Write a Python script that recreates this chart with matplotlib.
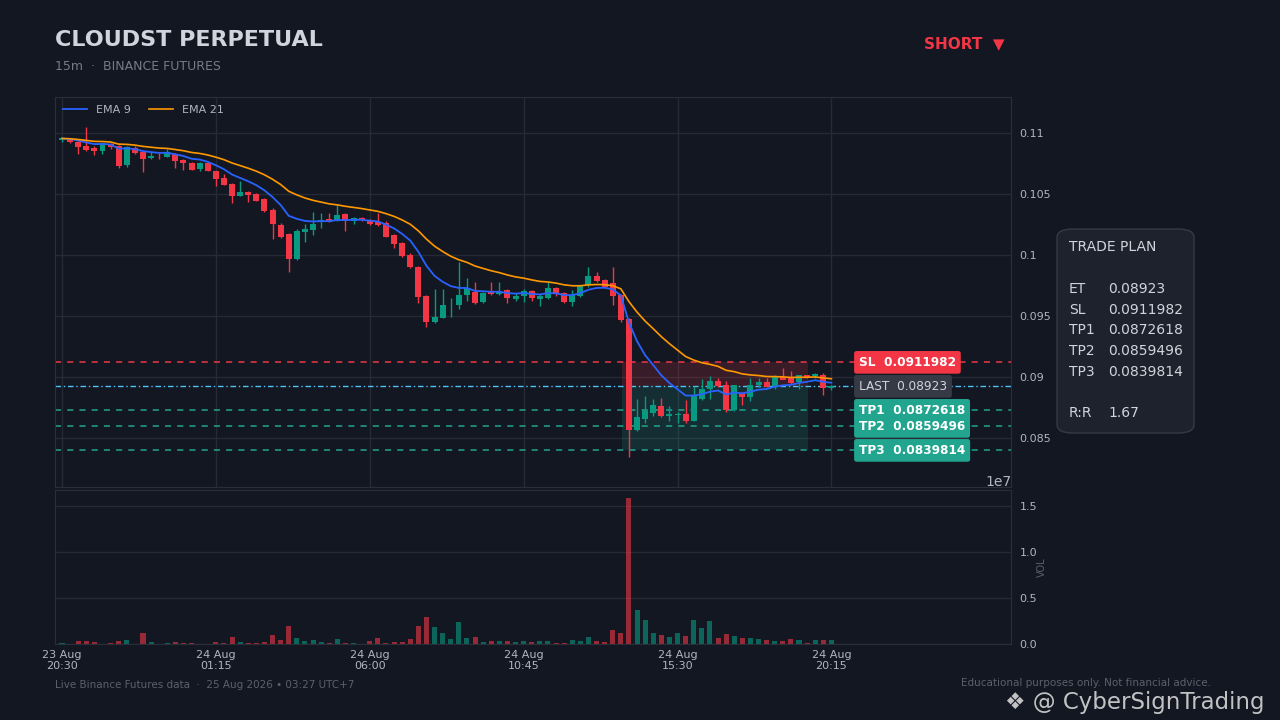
import numpy as np
import pandas as pd
import matplotlib
matplotlib.use("Agg")
import matplotlib.pyplot as plt
from matplotlib.patches import FancyBboxPatch

# --- data (15m candles, CLOUDUSDT perp) ---
opens = [0.10940, 0.10952, 0.10930, 0.10893, 0.10880, 0.10853, 0.10910, 0.10893, 0.10738, 0.10880,
         0.10847, 0.10798, 0.10815, 0.10806, 0.10825, 0.10779, 0.10757, 0.10705, 0.10757, 0.10689,
         0.10629, 0.10582, 0.10484, 0.10519, 0.10500, 0.10459, 0.10369, 0.10246, 0.10172, 0.09967,
         0.10191, 0.10205, 0.10269, 0.10295, 0.10281, 0.10336, 0.10281, 0.10300, 0.10287, 0.10268,
         0.10266, 0.10164, 0.10101, 0.10000, 0.09902, 0.09664, 0.09453, 0.09486, 0.09595, 0.09590,
         0.09672, 0.09700, 0.09618, 0.09695, 0.09680, 0.09713, 0.09639, 0.09664, 0.09707, 0.09643,
         0.09651, 0.09732, 0.09692, 0.09618, 0.09664, 0.09755, 0.09828, 0.09795, 0.09768, 0.09672,
         0.09475, 0.08566, 0.08656, 0.08708, 0.08762, 0.08683, 0.08692, 0.08697, 0.08642, 0.08820,
         0.08899, 0.08967, 0.08934, 0.08730, 0.08866, 0.08833, 0.08934, 0.08962, 0.08926, 0.09003,
         0.09003, 0.08962, 0.09016, 0.09008, 0.09016, 0.08907]
highs = [0.10970, 0.10960, 0.10935, 0.11047, 0.10890, 0.10920, 0.10920, 0.10905, 0.10895, 0.10890,
         0.10855, 0.10840, 0.10835, 0.10870, 0.10835, 0.10785, 0.10765, 0.10762, 0.10762, 0.10692,
         0.10665, 0.10590, 0.10610, 0.10525, 0.10512, 0.10465, 0.10385, 0.10260, 0.10180, 0.10215,
         0.10250, 0.10350, 0.10340, 0.10340, 0.10410, 0.10345, 0.10315, 0.10315, 0.10295, 0.10342,
         0.10275, 0.10170, 0.10108, 0.10015, 0.09910, 0.09670, 0.09720, 0.09720, 0.09645, 0.09940,
         0.09810, 0.09780, 0.09700, 0.09781, 0.09775, 0.09720, 0.09685, 0.09720, 0.09715, 0.09680,
         0.09780, 0.09740, 0.09700, 0.09710, 0.09750, 0.09900, 0.09860, 0.09800, 0.09900, 0.09680,
         0.09480, 0.08818, 0.08840, 0.08818, 0.08830, 0.08760, 0.08715, 0.08810, 0.08930, 0.08984,
         0.09010, 0.08995, 0.08970, 0.08935, 0.08875, 0.08995, 0.08995, 0.08990, 0.09020, 0.09072,
         0.09045, 0.09020, 0.09020, 0.09035, 0.09035, 0.08935]
lows = [0.10925, 0.10915, 0.10825, 0.10855, 0.10822, 0.10830, 0.10870, 0.10710, 0.10725, 0.10830,
        0.10684, 0.10785, 0.10790, 0.10800, 0.10710, 0.10695, 0.10695, 0.10690, 0.10685, 0.10568,
        0.10570, 0.10424, 0.10480, 0.10436, 0.10440, 0.10355, 0.10129, 0.10140, 0.09863, 0.09960,
        0.10104, 0.10160, 0.10220, 0.10270, 0.10275, 0.10200, 0.10250, 0.10275, 0.10245, 0.10240,
        0.10150, 0.10060, 0.09985, 0.09895, 0.09604, 0.09408, 0.09440, 0.09480, 0.09495, 0.09555,
        0.09620, 0.09600, 0.09610, 0.09675, 0.09670, 0.09610, 0.09620, 0.09615, 0.09625, 0.09585,
        0.09640, 0.09665, 0.09605, 0.09580, 0.09655, 0.09740, 0.09780, 0.09735, 0.09590, 0.09450,
        0.08347, 0.08555, 0.08620, 0.08680, 0.08670, 0.08640, 0.08625, 0.08620, 0.08640, 0.08815,
        0.08820, 0.08915, 0.08710, 0.08725, 0.08770, 0.08800, 0.08915, 0.08915, 0.08900, 0.08995,
        0.08940, 0.08900, 0.08995, 0.08995, 0.08850, 0.08895]
closes = [0.10955, 0.10930, 0.10888, 0.10862, 0.10853, 0.10916, 0.10888, 0.10732, 0.10888, 0.10839,
          0.10787, 0.10811, 0.10810, 0.10842, 0.10773, 0.10757, 0.10697, 0.10757, 0.10689, 0.10623,
          0.10574, 0.10484, 0.10519, 0.10495, 0.10443, 0.10361, 0.10254, 0.10148, 0.09967, 0.10197,
          0.10213, 0.10254, 0.10290, 0.10274, 0.10328, 0.10281, 0.10300, 0.10287, 0.10254, 0.10246,
          0.10151, 0.10090, 0.09992, 0.09902, 0.09656, 0.09453, 0.09495, 0.09590, 0.09600, 0.09672,
          0.09727, 0.09610, 0.09692, 0.09680, 0.09700, 0.09645, 0.09664, 0.09707, 0.09651, 0.09660,
          0.09732, 0.09678, 0.09613, 0.09672, 0.09746, 0.09830, 0.09787, 0.09740, 0.09667, 0.09467,
          0.08566, 0.08675, 0.08721, 0.08770, 0.08680, 0.08697, 0.08694, 0.08642, 0.08847, 0.08899,
          0.08967, 0.08926, 0.08730, 0.08934, 0.08839, 0.08934, 0.08962, 0.08921, 0.08998, 0.08976,
          0.08949, 0.09016, 0.08998, 0.09025, 0.08907, 0.08923]
volumes = [0.10, 0.05, 0.33, 0.33, 0.22, 0.05, 0.10, 0.33, 0.43, 0.03,
           1.20, 0.22, 0.03, 0.10, 0.22, 0.10, 0.10, 0.03, 0.03, 0.22,
           0.10, 0.76, 0.22, 0.10, 0.10, 0.22, 0.98, 0.43, 1.96, 0.65,
           0.33, 0.43, 0.22, 0.10, 0.54, 0.10, 0.10, 0.03, 0.33, 0.65,
           0.10, 0.22, 0.22, 0.54, 1.96, 2.93, 1.85, 1.20, 0.54, 2.39,
           0.65, 0.76, 0.22, 0.33, 0.33, 0.33, 0.22, 0.33, 0.22, 0.33,
           0.33, 0.10, 0.10, 0.43, 0.33, 0.76, 0.33, 0.22, 1.52, 1.20,
           15.87, 3.70, 2.61, 1.20, 0.98, 0.76, 1.20, 0.87, 2.61, 1.74,
           2.50, 0.65, 1.09, 0.87, 0.65, 0.65, 0.54, 0.43, 0.33, 0.33,
           0.54, 0.43, 0.10, 0.43, 0.43, 0.43]  # millions

tick_pos = [0, 19, 38, 57, 76, 95]
tick_labels = ["23 Aug\n20:30", "24 Aug\n01:15", "24 Aug\n06:00",
               "24 Aug\n10:45", "24 Aug\n15:30", "24 Aug\n20:15"]

entry = 0.08923
stop = 0.0911982
tp_names = ["TP1", "TP2", "TP3"]
tp_levels = [0.0872618, 0.0859496, 0.0839814]
rr = 1.67

# --- colours ---
BG = "#131722"
GRID = "#262a35"
TXT = "#b2b5be"
UP = "#089981"
DOWN = "#f23645"
TEAL = "#22a58f"

df = pd.DataFrame({"o": opens, "h": highs, "l": lows, "c": closes, "v": np.array(volumes) * 1e6})
x = np.arange(len(df))
ema9 = df["c"].ewm(span=9, adjust=False).mean()
ema21 = df["c"].ewm(span=21, adjust=False).mean()
up = df["c"] >= df["o"]
cols = np.where(up, UP, DOWN)

fig = plt.figure(figsize=(12.8, 7.2), dpi=100, facecolor=BG)
ax = fig.add_axes([0.043, 0.3236, 0.747, 0.5417], facecolor=BG)
axv = fig.add_axes([0.043, 0.1056, 0.747, 0.2139], facecolor=BG, sharex=ax)

# candles
ax.vlines(x, df["l"], df["h"], colors=cols, lw=1.0, zorder=3)
body_lo = np.minimum(df["o"], df["c"])
body_h = np.maximum(np.abs(df["c"] - df["o"]), 0.00002)
ax.bar(x, body_h, bottom=body_lo, width=0.74, color=cols, zorder=4)

ax.plot(x, ema9, color="#2962ff", lw=1.3, label="EMA 9", zorder=5)
ax.plot(x, ema21, color="#ff9800", lw=1.2, label="EMA 21", zorder=5)

# trade zones
z0, z1 = 69.1, 92.1
ax.fill_between([z0, z1], entry, stop, color=DOWN, alpha=0.17, lw=0, zorder=1)
ax.fill_between([z0, z1], tp_levels[-1], entry, color=TEAL, alpha=0.17, lw=0, zorder=1)

ax.axhline(stop, color=DOWN, ls=(0, (4, 4)), lw=1.1, zorder=2)
ax.axhline(entry, color="#4fc3f7", ls=(0, (4, 2, 1, 2)), lw=1.0, zorder=2)
for lv in tp_levels:
    ax.axhline(lv, color=TEAL, ls=(0, (4, 4)), lw=1.1, zorder=2)

lx = 98.4
box = "round,pad=0.4,rounding_size=0.2"
ax.text(lx, stop, f"SL  {stop}", color="white", fontsize=8.7, fontweight="bold", va="center", zorder=7,
        bbox=dict(boxstyle=box, fc=DOWN, ec="none"))
ax.text(lx, entry, f"LAST  {entry}", color="#d1d4dc", fontsize=8.7, va="center", zorder=7,
        bbox=dict(boxstyle=box, fc="#363a45", ec="none"))
for name, lv in zip(tp_names, tp_levels):
    ax.text(lx, lv, f"{name}  {lv}", color="white", fontsize=8.7, fontweight="bold", va="center", zorder=7,
            bbox=dict(boxstyle=box, fc=TEAL, ec="none"))

ax.set_xlim(-0.86, 117.2)
ax.set_ylim(0.08098, 0.11295)
ax.set_yticks([0.085, 0.09, 0.095, 0.1, 0.105, 0.11])
ax.set_yticklabels(["0.085", "0.09", "0.095", "0.1", "0.105", "0.11"])
ax.yaxis.tick_right()
ax.tick_params(axis="y", length=0, pad=6, labelsize=8, labelcolor=TXT)
ax.tick_params(axis="x", length=0, labelbottom=False)
ax.set_xticks(tick_pos)
ax.grid(True, color=GRID, lw=1.0)
ax.set_axisbelow(True)
ax.legend(loc="upper left", ncol=2, frameon=False, fontsize=8, labelcolor=TXT,
          handlelength=2.2, borderaxespad=0.3, columnspacing=1.6)

# volume
axv.bar(x, df["v"], width=0.62, color=cols, alpha=0.6)
axv.set_ylim(0, 1.674e7)
axv.set_yticks([0, 0.5e7, 1.0e7, 1.5e7])
axv.yaxis.tick_right()
axv.yaxis.set_label_position("right")
axv.set_ylabel("VOL", color="#5d606b", fontsize=7, labelpad=0)
axv.tick_params(axis="y", length=0, pad=6, labelsize=8, labelcolor=TXT)
axv.tick_params(axis="x", length=0, pad=4, labelsize=8, labelcolor=TXT)
axv.set_xticks(tick_pos)
axv.set_xticklabels(tick_labels)
axv.grid(True, axis="y", color=GRID, lw=1.0)
axv.set_axisbelow(True)
axv.yaxis.get_offset_text().set_color(TXT)
axv.yaxis.get_offset_text().set_fontsize(10)

for a in (ax, axv):
    for s in a.spines.values():
        s.set_color("#2a2e39")

# header
fig.text(0.043, 0.944, "CLOUDST PERPETUAL", color="#d1d4dc", fontsize=16, fontweight="bold", va="center")
fig.text(0.043, 0.908, "15m  ·  BINANCE FUTURES", color="#787b86", fontsize=9, va="center")
fig.text(0.785, 0.940, "SHORT  ▼", color=DOWN, fontsize=11, fontweight="bold", va="center", ha="right")

# trade plan card
card = FancyBboxPatch((0.8258, 0.3986), 0.107, 0.2833, transform=fig.transFigure,
                      boxstyle="round,pad=0,rounding_size=0.012", fc="#1e222d", ec="#363a45", lw=1.0)
fig.patches.append(card)
plan_rows = [("TRADE PLAN", "", 247), ("ET", f"{entry}", 289), ("SL", f"{stop}", 310)]
plan_rows += [(n, f"{v}", y) for n, v, y in zip(tp_names, tp_levels, [330, 351, 372])]
plan_rows += [("R:R", f"{rr}", 413)]
for lab, val, ypx in plan_rows:
    fig.text(1069 / 1280, 1 - ypx / 720, lab, color="#d1d4dc", fontsize=10, va="center")
    if val:
        fig.text(1108 / 1280, 1 - ypx / 720, val, color="#d1d4dc", fontsize=10, va="center")

# footer
fig.text(0.043, 1 - 685 / 720, "Live Binance Futures data  ·  25 Aug 2026 • 03:27 UTC+7", color="#5d606b",
         fontsize=7.5, va="center")
fig.text(961 / 1280, 1 - 683 / 720, "Educational purposes only. Not financial advice.", color="#5d606b",
         fontsize=7.5, va="center")
fig.text(1005 / 1280, 1 - 703 / 720, "❖ @ CyberSignTrading", color="#d6d6d6", fontsize=16.5,
         va="center", alpha=0.9)

fig.savefig("out.png", dpi=100, facecolor=BG)
